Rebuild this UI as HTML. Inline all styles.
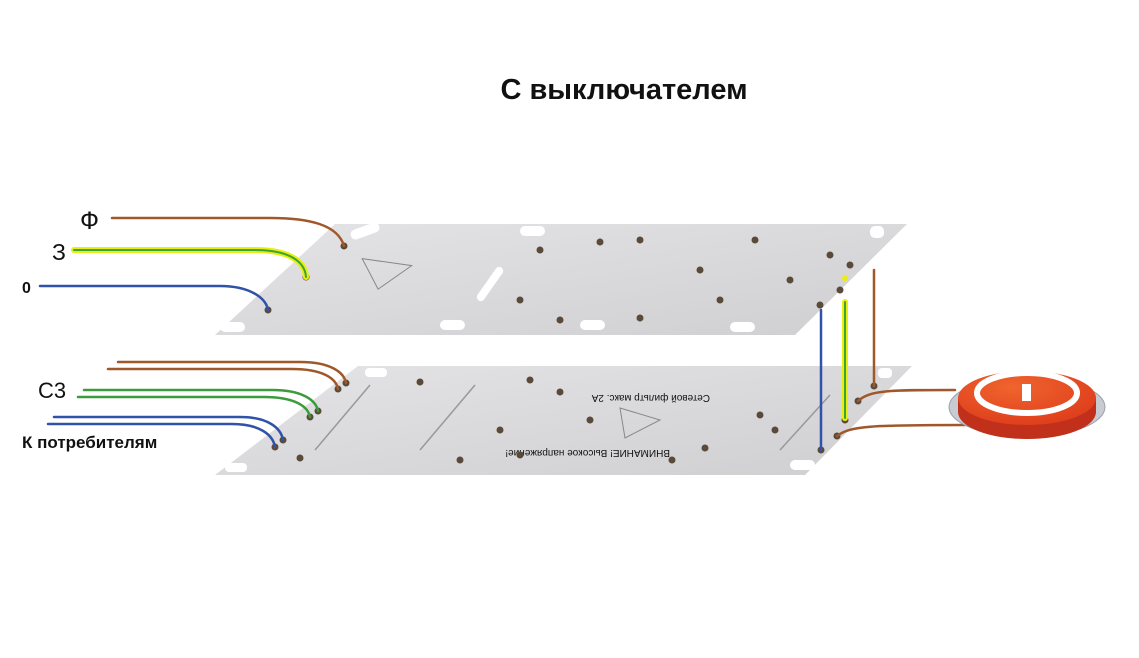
<!DOCTYPE html>
<html><head><meta charset="utf-8"><style>
html,body{margin:0;padding:0;background:#fff;width:1139px;height:658px;overflow:hidden}
svg{display:block}
text{font-family:"Liberation Sans",sans-serif;fill:#111}
</style></head><body>
<svg width="1139" height="658" viewBox="0 0 1139 658">
<defs>
<linearGradient id="bd" x1="0" y1="0" x2="1" y2="1"><stop offset="0" stop-color="#e4e4e6"/><stop offset="1" stop-color="#cfcfd2"/></linearGradient>
<radialGradient id="btn" cx="0.4" cy="0.3" r="0.8"><stop offset="0" stop-color="#f0642e"/><stop offset="1" stop-color="#dc3a1a"/></radialGradient>
</defs>
<text x="624" y="99" font-size="29" font-weight="bold" text-anchor="middle">С выключателем</text>
<!-- top board -->
<polygon points="335,224 907,224 795,335 215,335" fill="url(#bd)"/>
<g fill="#fff">
<rect x="350" y="226" width="30" height="10" rx="5" transform="rotate(-20 365 231)"/>
<rect x="470" y="280" width="40" height="8" rx="4" transform="rotate(-55 490 284)"/>
<rect x="440" y="320" width="25" height="10" rx="5"/>
<rect x="580" y="320" width="25" height="10" rx="5"/>
<rect x="520" y="226" width="25" height="10" rx="5"/>
<rect x="870" y="226" width="14" height="12" rx="5"/>
<rect x="220" y="322" width="25" height="10" rx="5"/>
<rect x="730" y="322" width="25" height="10" rx="5"/>
</g>
<polygon points="360,262 410,262 380,290" fill="none" stroke="#888" transform="rotate(8 385 276)"/>
<g fill="#5a4a3a">
<circle cx="344" cy="246" r="3.5"/><circle cx="306" cy="277" r="3.5"/><circle cx="268" cy="310" r="3.5"/>
<circle cx="540" cy="250" r="3.5"/><circle cx="600" cy="242" r="3.5"/><circle cx="640" cy="240" r="3.5"/><circle cx="700" cy="270" r="3.5"/><circle cx="720" cy="300" r="3.5"/><circle cx="640" cy="318" r="3.5"/><circle cx="520" cy="300" r="3.5"/><circle cx="560" cy="320" r="3.5"/><circle cx="830" cy="255" r="3.5"/><circle cx="850" cy="265" r="3.5"/><circle cx="840" cy="290" r="3.5"/><circle cx="820" cy="305" r="3.5"/><circle cx="755" cy="240" r="3.5"/><circle cx="790" cy="280" r="3.5"/>
</g>
<!-- bottom board -->
<polygon points="358,366 912,366 805,475 215,475" fill="url(#bd)"/>
<g fill="#fff">
<rect x="365" y="368" width="22" height="9" rx="4"/>
<rect x="790" y="460" width="25" height="10" rx="5"/>
<rect x="225" y="463" width="22" height="9" rx="4"/>
<rect x="878" y="368" width="14" height="10" rx="4"/>
</g>
<polygon points="620,408 660,420 625,438" fill="none" stroke="#888"/>
<g stroke="#999" stroke-width="1.5"><line x1="315" y1="450" x2="370" y2="385"/><line x1="420" y1="450" x2="475" y2="385"/><line x1="780" y1="450" x2="830" y2="395"/></g>
<text x="590" y="385" font-size="10" fill="#666" transform="rotate(180 650 390)">Сетевой фильтр макс. 2А</text>
<text x="550" y="440" font-size="10" fill="#666" transform="rotate(180 610 445)">ВНИМАНИЕ! Высокое напряжение!</text>
<g fill="#5a4a3a">
<circle cx="346" cy="383" r="3.5"/><circle cx="338" cy="389" r="3.5"/><circle cx="318" cy="411" r="3.5"/><circle cx="310" cy="417" r="3.5"/><circle cx="283" cy="440" r="3.5"/><circle cx="275" cy="447" r="3.5"/>
<circle cx="420" cy="382" r="3.5"/><circle cx="530" cy="380" r="3.5"/><circle cx="560" cy="392" r="3.5"/><circle cx="500" cy="430" r="3.5"/><circle cx="520" cy="455" r="3.5"/><circle cx="590" cy="420" r="3.5"/><circle cx="460" cy="460" r="3.5"/><circle cx="300" cy="458" r="3.5"/><circle cx="760" cy="415" r="3.5"/><circle cx="775" cy="430" r="3.5"/><circle cx="672" cy="460" r="3.5"/><circle cx="874" cy="386" r="3.5"/><circle cx="858" cy="401" r="3.5"/><circle cx="845" cy="420" r="3.5"/><circle cx="837" cy="436" r="3.5"/><circle cx="821" cy="450" r="3.5"/><circle cx="705" cy="448" r="3.5"/>
</g>
<!-- wires -->
<g fill="none" stroke-linecap="round">
<path d="M112,218 H270 C310,218 338,225 344,246" stroke="#a0582a" stroke-width="2.5"/>
<path d="M74,250 H255 C290,250 305,262 306,277" stroke="#e8ee10" stroke-width="6"/>
<path d="M74,250 H255 C290,250 305,262 306,277" stroke="#3aa33a" stroke-width="2"/>
<path d="M40,286 H220 C250,286 266,298 268,310" stroke="#3052a8" stroke-width="2.5"/>
<path d="M118,362 H300 C330,362 344,372 346,383" stroke="#a0582a" stroke-width="2.5"/>
<path d="M108,369 H292 C322,369 336,378 338,389" stroke="#a0582a" stroke-width="2.5"/>
<path d="M84,390 H272 C302,390 316,400 318,411" stroke="#3d9a3d" stroke-width="2.5"/>
<path d="M78,397 H264 C294,397 308,406 310,417" stroke="#3d9a3d" stroke-width="2.5"/>
<path d="M54,417 H240 C268,417 281,428 283,440" stroke="#3052a8" stroke-width="2.5"/>
<path d="M48,424 H232 C260,424 273,435 275,447" stroke="#3052a8" stroke-width="2.5"/>
<line x1="821" y1="310" x2="821" y2="450" stroke="#3052a8" stroke-width="2.5"/>
<line x1="845" y1="302" x2="845" y2="418" stroke="#e8ee10" stroke-width="6"/>
<line x1="845" y1="302" x2="845" y2="418" stroke="#3aa33a" stroke-width="2"/>
<line x1="874" y1="270" x2="874" y2="386" stroke="#a0582a" stroke-width="2.5"/>
<path d="M858,401 C870,390 890,390 955,390" stroke="#a0582a" stroke-width="2.5"/>
<path d="M837,436 C850,426 870,425 965,425" stroke="#a0582a" stroke-width="2.5"/>
</g>
<circle cx="845" cy="278" r="3" fill="#e8ee10"/>
<!-- button -->
<ellipse cx="1027" cy="407" rx="78" ry="30" fill="#c8ccd2" stroke="#9aa0a8"/>
<path d="M958,398 V412 A69,27 0 0 0 1096,412 V398 Z" fill="#c0301a"/>
<ellipse cx="1027" cy="398" rx="69" ry="27" fill="url(#btn)"/>
<ellipse cx="1027" cy="393" rx="50" ry="20" fill="none" stroke="#fff" stroke-width="6"/>
<rect x="1022" y="384" width="9" height="17" fill="#fff"/>
<!-- labels -->
<text x="80" y="229" font-size="25">Ф</text>
<text x="52" y="260" font-size="23">З</text>
<text x="22" y="293" font-size="16" font-weight="bold">0</text>
<text x="38" y="398" font-size="22">С3</text>
<text x="22" y="448" font-size="17" font-weight="bold">К потребителям</text>
</svg>
</body></html>
